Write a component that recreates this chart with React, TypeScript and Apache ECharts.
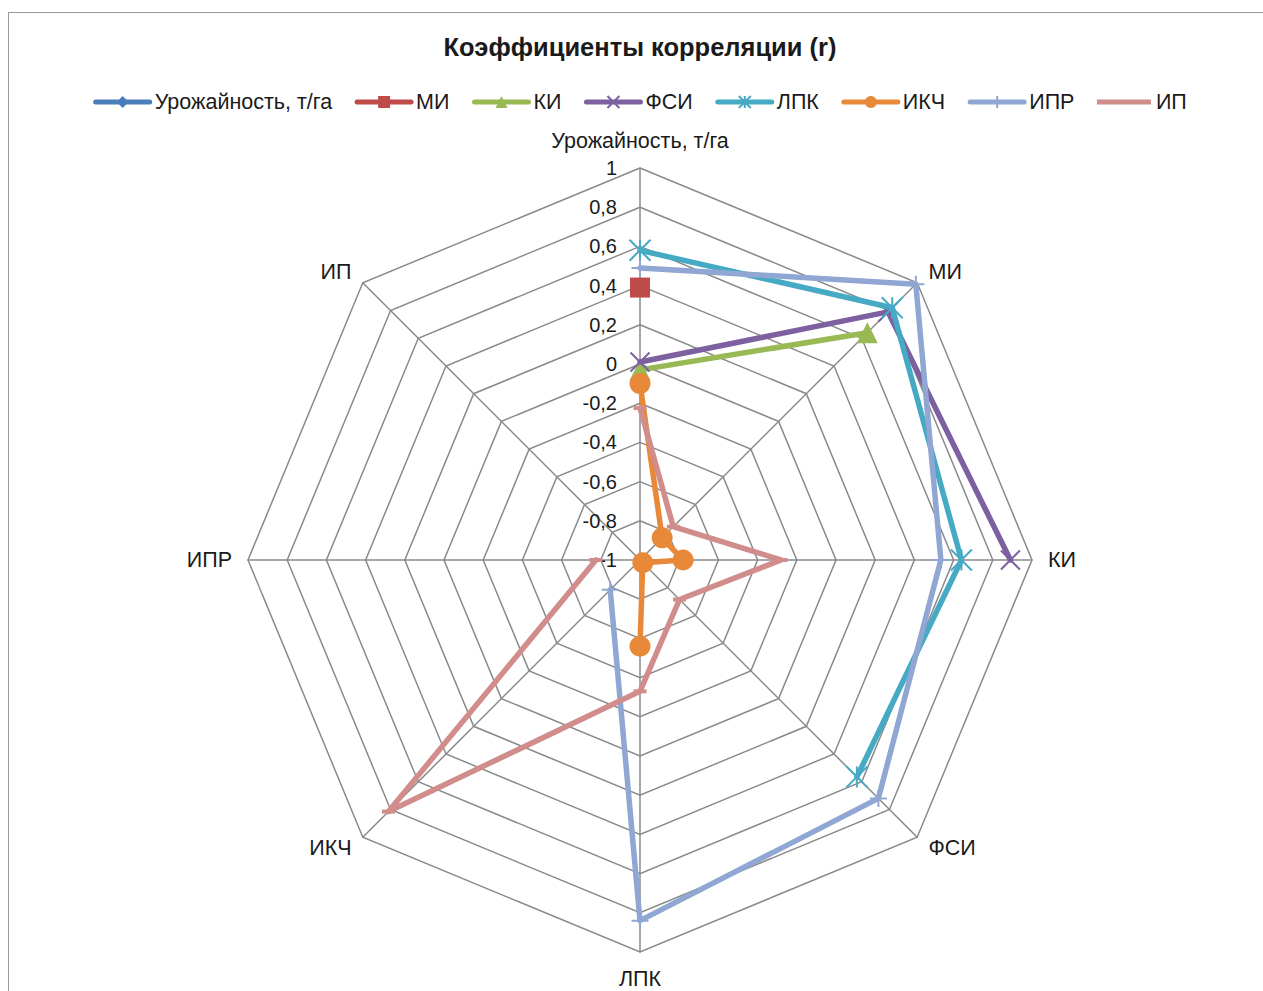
import React, { useEffect, useRef } from 'react';
import * as echarts from 'echarts';

// ---- data ----
const axisNames = ['Урожайность, т/га', 'МИ', 'КИ', 'ФСИ', 'ЛПК', 'ИКЧ', 'ИПР', 'ИП'];
const seriesNames = ['Урожайность, т/га', 'МИ', 'КИ', 'ФСИ', 'ЛПК', 'ИКЧ', 'ИПР', 'ИП'];
// correlation coefficients (lower triangle of the matrix), in the order of axisNames
const valUrozh: number[] = [];
const valMI = [0.39];
const valKI = [-0.03, 0.64];
const valFSI = [0.01, 0.79, 0.89];
const valLPK = [0.58, 0.82, 0.64, 0.565];
const valIKCh = [-0.1, -0.84, -0.78, -0.98, -0.56];
const valIPR = [0.49, 0.99, 0.535, 0.72, 0.84, -0.785];
const valIP = [-0.225, -0.76, -0.28, -0.715, -0.33, 0.815, -0.775];
const tickMin = -1;
const tickMax = 1;
const tickStep = 0.2;

const FONT = '"Liberation Sans", Arial, sans-serif';
const TXT = '#1a1a1a';
const GRID = '#8a8a8a';

export default function App() {
  const ref = useRef<HTMLDivElement>(null);
  useEffect(() => {
    const chart = echarts.init(ref.current!, null, { renderer: 'svg' });
    const CX = 631;
    const CY = 547;
    const R = 392;
    const angleStep = 360 / axisNames.length;
    const toPolar = (vals: number[]) => vals.map((v, i) => [v, i * angleStep]);

    // radar indicators run counter-clockwise: reorder so the names read clockwise
    const radarOrder = [axisNames[0], ...axisNames.slice(1).reverse()];

    const X_PATH = 'path://M0,0L10,10M10,0L0,10';
    const AST_PATH = 'path://M0,0L10,10M10,0L0,10M5,0L5,10';
    const PLUS_PATH = 'path://M5,0L5,10M0,5L10,5';

    const defs: any[] = [
      { values: valUrozh, color: '#4A7EBB', symbol: 'diamond', size: 16, stroke: 0 },
      { values: valMI, color: '#BE4B48', symbol: 'rect', size: 20, stroke: 0 },
      { values: valKI, color: '#98B954', symbol: 'triangle', size: 21, stroke: 0 },
      { values: valFSI, color: '#7D60A0', symbol: X_PATH, size: 19, stroke: 2 },
      { values: valLPK, color: '#46AAC5', symbol: AST_PATH, size: 21, stroke: 2 },
      { values: valIKCh, color: '#E8893A', symbol: 'circle', size: 21, stroke: 0 },
      { values: valIPR, color: '#8FA7D2', symbol: PLUS_PATH, size: 17, stroke: 2 },
      { values: valIP, color: '#D18D8C', symbol: 'rect', size: [13, 4], stroke: 0 },
    ];

    const series = defs.map((d, i) => ({
      name: seriesNames[i],
      type: 'line',
      coordinateSystem: 'polar',
      data: toPolar(d.values),
      symbol: d.symbol,
      symbolSize: d.size,
      showSymbol: true,
      lineStyle: { color: d.color, width: 5.5, cap: 'round', join: 'round' },
      itemStyle: { color: d.color, borderColor: d.color, borderWidth: d.stroke },
      z: 3 + i,
    }));

    const fmt = (v: number) => String(Math.round(v * 10) / 10).replace('.', ',');

    chart.setOption({
      animation: false,
      title: {
        text: 'Коэффициенты корреляции (r)',
        left: 'center',
        top: 16,
        textStyle: { fontFamily: FONT, fontSize: 25.5, fontWeight: 'bold', color: TXT },
      },
      legend: {
        top: 73,
        left: 'center',
        itemWidth: 54,
        itemHeight: 15,
        itemGap: 22.5,
        lineStyle: { width: 5, cap: 'round' },
        textStyle: { fontFamily: FONT, fontSize: 21.5, color: TXT },
        data: seriesNames.map((n, i) =>
          i === 7 ? { name: n, icon: 'path://M0,0L56,0L56,5L0,5Z' } : { name: n }
        ),
      },
      radar: {
        center: [CX, CY],
        radius: R,
        startAngle: 90,
        shape: 'polygon',
        splitNumber: Math.round((tickMax - tickMin) / tickStep),
        indicator: radarOrder.map((n) => ({ name: n, min: tickMin, max: tickMax })),
        nameGap: 16,
        axisName: { fontFamily: FONT, fontSize: 21.5, color: TXT },
        splitLine: { lineStyle: { color: GRID, width: 1.5 } },
        splitArea: { show: false },
        axisLine: { lineStyle: { color: GRID, width: 1.5 } },
        axisTick: { show: false },
        axisLabel: { show: false },
      },
      polar: { center: [CX, CY], radius: R },
      angleAxis: { type: 'value', min: 0, max: 360, startAngle: 90, clockwise: true, show: false },
      radiusAxis: {
        type: 'value',
        min: tickMin,
        max: tickMax,
        interval: tickStep,
        axisLine: { show: false },
        axisTick: { show: false },
        splitLine: { show: false },
        axisLabel: { margin: 23, fontFamily: FONT, fontSize: 20, color: TXT, formatter: fmt },
        z: 10,
      },
      series,
    });
    return () => chart.dispose();
  }, []);
  return (
    <div
      style={{
        position: 'fixed',
        left: 8,
        top: 12,
        width: 1262,
        height: 1000,
        border: '1px solid #9a9a9a',
        background: '#fff',
      }}
    >
      <div ref={ref} style={{ width: 1262, height: 1000 }} />
    </div>
  );
}
